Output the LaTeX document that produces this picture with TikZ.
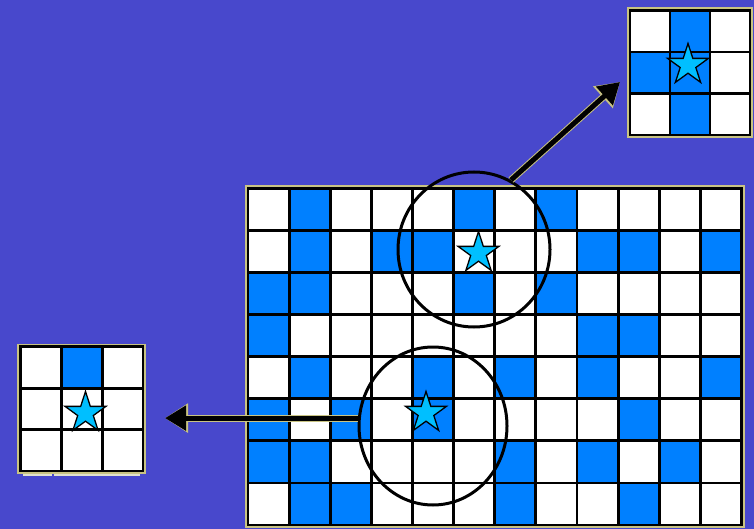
\documentclass[tikz,border=0pt]{standalone}
\usetikzlibrary{shapes.geometric,arrows.meta}
\definecolor{bg}{RGB}{72,72,204}
\definecolor{cellblue}{RGB}{0,128,255}
\definecolor{starcol}{RGB}{0,191,255}
\definecolor{rim}{RGB}{200,195,130}
\definecolor{pale}{RGB}{225,225,205}
\tikzset{
  gridline/.style={line width=2.8pt, black},
  frameline/.style={line width=2.8pt, black},
  rimline/.style={line width=1.6pt, rim},
  starnode/.style={star, star points=5, star point ratio=2.618, minimum size=43pt,
    inner sep=0pt, draw=black, line width=1.3pt, fill=starcol},
  ring/.style={ellipse, draw=black, line width=3pt, inner sep=0pt, fill=none},
  bigarrow/.style={line width=5pt, black, -{Triangle[length=21pt,width=24pt]},
    preaction={draw=rim, line width=7pt, -{Triangle[length=23pt,width=28pt]}}},
}
% #1 x0, #2 y0, #3 cell w, #4 cell h, #5 cols, #6 rows, #7 blue cells col/row
\newcommand\mkcellgrid[7]{%
  \fill[white] (#1,#2) rectangle ++({#5*#3},{#6*#4});
  \foreach \cc/\rr in {#7} {\fill[cellblue] ({#1+\cc*#3},{#2+\rr*#4}) rectangle ++(#3,#4);}
  \foreach \ii in {0,...,#5} {\draw[gridline] ({#1+\ii*#3},#2) -- ++(0,{#6*#4});}
  \foreach \jj in {0,...,#6} {\draw[gridline] (#1,{#2+\jj*#4}) -- ++({#5*#3},0);}
  \draw[rimline] ({#1-2.2},{#2-2.2}) rectangle ({#1+#5*#3+2.2},{#2+#6*#4+2.2});
  \draw[frameline] (#1,#2) rectangle ({#1+#5*#3},{#2+#6*#4});
}
\begin{document}
\begin{tikzpicture}[x=1pt,y=-1pt]
\useasboundingbox (0,0) rectangle (754,529);
\fill[bg] (0,0) rectangle (754,529);

% main grid
\mkcellgrid{248}{188.5}{41.125}{42.0625}{12}{8}{%
  1/0,5/0,7/0,
  1/1,3/1,4/1,8/1,9/1,11/1,
  0/2,1/2,5/2,7/2,
  0/3,8/3,9/3,
  1/4,4/4,6/4,8/4,11/4,
  0/5,2/5,4/5,9/5,
  0/6,1/6,6/6,8/6,10/6,
  1/7,2/7,6/7,9/7}

% top-right inset
\mkcellgrid{630}{10.5}{40}{41.5}{3}{3}{1/0,0/1,1/1,1/2}

% left inset
\mkcellgrid{20.3}{346.7}{40.9}{41.4}{3}{3}{1/0}
\draw[pale, line width=1.4pt] (23,474.8) -- (51.5,474.8);
\draw[pale, line width=1.4pt] (53.5,474.8) -- (140,474.8);

% stars
\node[starnode] (s1) at (478.5,253) {};
\node[starnode] (s2) at (426,413) {};
\node[starnode] (s3) at (688,65) {};
\node[starnode] (s4) at (85.5,413) {};

% circles
\node[ring, minimum width=152pt, minimum height=155pt] (c1) at (474,249.5) {};
\node[ring, minimum width=148pt, minimum height=158pt] (c2) at (433,426) {};

% arrows
\coordinate (tipR) at (620,82);
\coordinate (tipL) at (165,419);
\draw[bigarrow] (c1.62.6) -- (tipR);
\draw[bigarrow] (c2.174.57) -- (c2.174.57 -| tipL);
\end{tikzpicture}
\end{document}
